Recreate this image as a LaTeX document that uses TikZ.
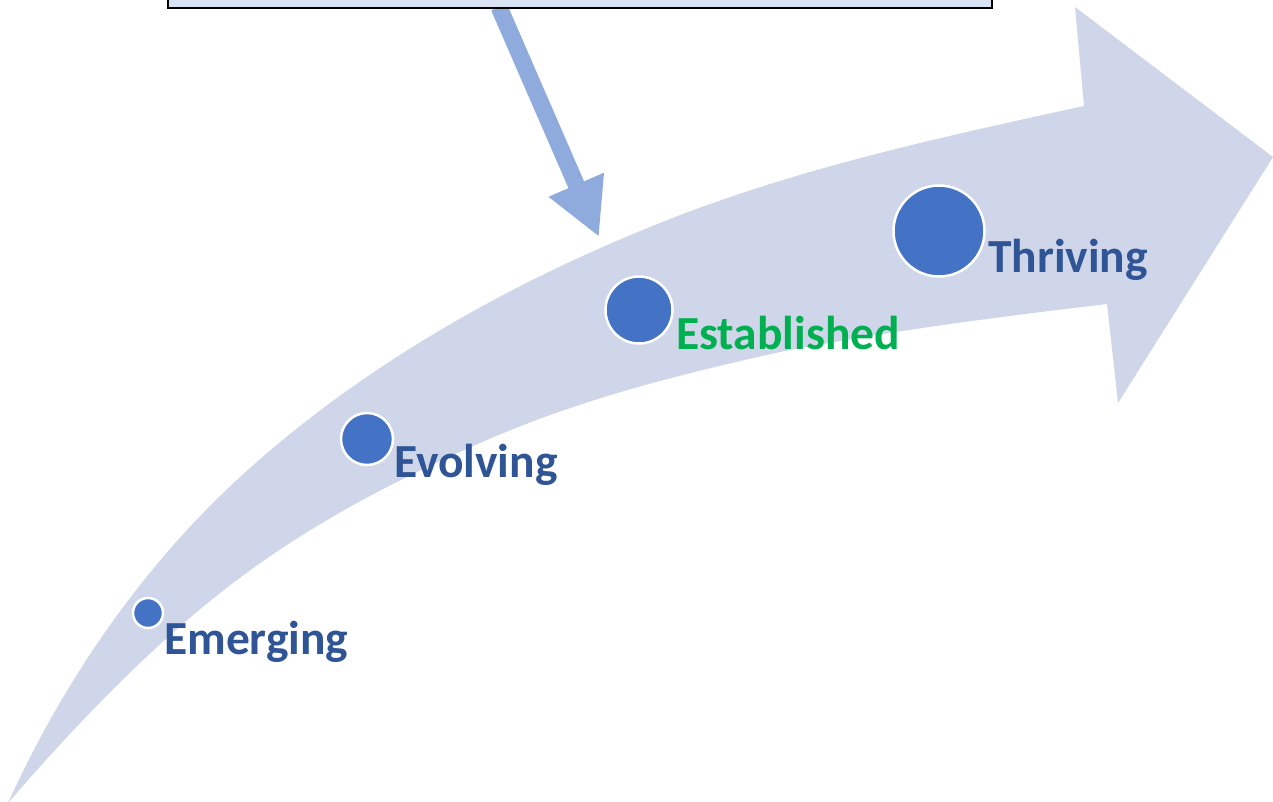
\documentclass[tikz,border=0pt]{standalone}
\usepackage{fontspec}
\setmainfont{Carlito}
\usetikzlibrary{arrows.meta}
\definecolor{bandcol}{RGB}{208,214,234}
\definecolor{boxcol}{RGB}{218,227,243}
\definecolor{ptrcol}{RGB}{143,170,220}
\definecolor{dotcol}{RGB}{68,114,196}
\definecolor{lblblue}{RGB}{47,85,151}
\definecolor{lblgreen}{RGB}{0,176,80}
\begin{document}
\begin{tikzpicture}[x=1pt,y=-1pt,
  dot/.style={circle, fill=dotcol, draw=white, line width=2.5pt, inner sep=0pt},
  lbl/.style={anchor=base west, inner sep=0pt, font=\fontsize{47.5}{52}\selectfont\bfseries, text=lblblue},
  pointer/.style={draw=ptrcol, line width=17pt, -{Triangle[length=57pt,width=56pt]}}]
\useasboundingbox (0,0) rectangle (1273,801);
\clip (0,0) rectangle (1273,801);
% big curved arrow
\fill[bandcol]
  (8,803)
  .. controls (64,680) and (142,567) .. (240,477)
  .. controls (358,369) and (502,287) .. (650,227)
  .. controls (789,170) and (937,138) .. (1084,106)
  -- (1075,7) -- (1273,157) -- (1118,403) -- (1107,304)
  .. controls (998,317) and (888,331) .. (780,352)
  .. controls (681,374) and (581,399) .. (487,440)
  .. controls (399,478) and (314,522) .. (237,580)
  .. controls (157,640) and (78,722) .. (8,803)
  -- cycle;
% pointer and box
\coordinate (ptail) at (499,7);
\coordinate (ptip) at (599,237);
\draw[pointer] (ptail) -- (ptip);
\node[draw=black, line width=2pt, fill=boxcol, minimum width=824pt, minimum height=80pt, inner sep=0pt] (box) at (580,-32) {};
% stages
\node[dot, minimum size=30pt] (d1) at (148,613) {};
\node[dot, minimum size=52pt] (d2) at (367,439) {};
\node[dot, minimum size=67pt] (d3) at (639,310) {};
\node[dot, minimum size=91pt] (d4) at (939,231) {};
\node[lbl] (t1) at (164,654) {Emerging};
\node[lbl] (t2) at (394,477) {Evolving};
\node[lbl, text=lblgreen] (t3) at (676,349) {Established};
\node[lbl] (t4) at (988,272) {Thriving};
\end{tikzpicture}
\end{document}
